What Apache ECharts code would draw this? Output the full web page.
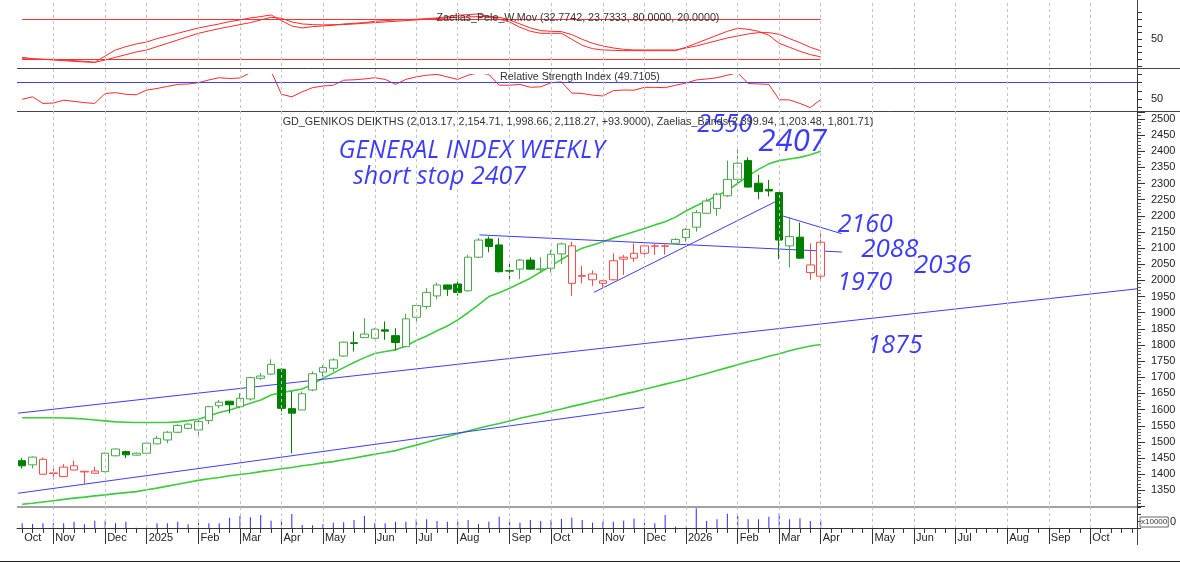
<!DOCTYPE html>
<html><head><meta charset="utf-8">
<script src="https://cdn.jsdelivr.net/npm/echarts@6/dist/echarts.min.js"></script>
<style>html,body{margin:0;padding:0;background:#fff}#c{width:1180px;height:563px}</style>
</head><body><div id="c"></div>
<script>
// ---------- data ----------
const firstWeek = '2024-10-11';   // weekly bars (Fridays)
const weekCount = 108;            // incl. empty future weeks
const monthTicks = [[0,'Oct'],[3,'Nov'],[8,'Dec'],[12,'2025'],[17,'Feb'],[21,'Mar'],[25,'Apr'],[29,'May'],[34,'Jun'],[38,'Jul'],[42,'Aug'],[47,'Sep'],[51,'Oct'],[56,'Nov'],[60,'Dec'],[64,'2026'],[69,'Feb'],[73,'Mar'],[77,'Apr'],[82,'May'],[86,'Jun'],[90,'Jul'],[95,'Aug'],[99,'Sep'],[103,'Oct']];

const opens  = [1442,1429,1446,1404,1393,1426,1409,1410,1408,1457, 1470,1459,1465,1494,1506,1530,1542,1537,1566,1612, 1626,1609,1633,1697,1710,1725,1603,1599,1661,1716, 1728,1766,1807,1823,1821,1847,1829,1795,1886,1919, 1952,1986,1989,1968,2072,2128,2110,2030,2035,2063, 2033,2038,2082,2107,2015,2020,1999,2002,2072,2069, 2084,2107,2107,2115,2133,2165,2208,2223,2262,2313, 2371,2301,2282,2272,2107,2134,2048,2013.17];
const closes = [1426,1453,1400,1402,1422,1413,1407,1403,1465,1478, 1460,1465,1496,1511,1530,1551,1555,1563,1609,1623, 1615,1635,1699,1704,1740,1604,1589,1649,1711,1730, 1754,1809,1805,1834,1849,1843,1808,1881,1922,1963, 1986,1973,1963,2072,2125,2105,2027,2029,2063,2035, 2036,2081,2113,1991,2013,2002,1991,2061,2066,2084, 2107,2106,2106,2127,2158,2210,2246,2267,2313,2363, 2289,2275,2277,2125,2136,2069,2024.37,2118.27];
const lows   = [1418,1418,1398,1387,1392,1412,1370,1402,1406,1455, 1450,1457,1463,1493,1496,1527,1539,1513,1555,1604, 1589,1604,1628,1692,1708,1584,1465,1598,1657,1702, 1718,1764,1780,1822,1818,1816,1783,1793,1869,1911, 1942,1952,1953,1965,2069,2087,2025,1996,2004,2033, 2024,2024,2051,1952,1991,1983,1978,2000,2017,2058, 2079,2079,2080,2114,2120,2151,2206,2200,2258,2299, 2289,2251,2260,2066,2041,2068,2002,1998.66];
const highs  = [1450,1455,1452,1418,1431,1442,1410,1423,1467,1480, 1473,1467,1498,1519,1534,1555,1558,1568,1612,1630, 1627,1651,1702,1713,1756,1728,1656,1656,1718,1738, 1759,1811,1842,1883,1852,1873,1852,1896,1929,1976, 1993,1987,1996,2079,2131,2136,2131,2058,2066,2072, 2072,2094,2117,2120,2045,2031,2002,2084,2079,2115, 2113,2113,2112,2131,2162,2218,2254,2272,2371,2404, 2381,2327,2311,2273,2196,2179,2115,2154.71];
// trend signal shown by candle colour: 1 = green, -1 = red
const signal = [1,1,-1,-1,-1,-1,-1,-1,1,1, 1,1,1,1,1,1,1,1,1,1, 1,1,1,1,1,1,1,1,1,1, 1,1,1,1,1,1,1,1,1,1, 1,1,1,1,1,1,1,1,1,1, 1,1,1,-1,-1,-1,-1,-1,-1,-1, -1,-1,-1,1,1,1,1,1,1,1, 1,1,1,1,1,1,-1,-1];
const bandUpper = [1575,1575,1575,1575,1574,1573,1571,1568,1565,1562, 1561,1560,1560,1560,1560,1562,1566,1570,1580,1591, 1599,1609,1620,1630,1645,1653,1658,1664,1679,1697, 1713,1730,1746,1761,1774,1780,1785,1797,1814,1828, 1844,1859,1878,1900,1924,1950,1962,1976,1991,2007, 2026,2045,2065,2084,2100,2110,2120,2131,2141,2151, 2161,2172,2182,2196,2215,2231,2246,2262,2278,2301, 2323,2344,2361,2371,2376,2381,2389,2399.94];
const bandMiddle = [1307,1310,1314,1318,1322,1326,1329,1333,1336,1340, 1343,1346,1352,1357,1363,1369,1375,1381,1386,1390, 1395,1399,1403,1408,1412,1417,1421,1426,1430,1435, 1439,1445,1450,1456,1462,1467,1473,1482,1490,1499, 1508,1517,1525,1534,1542,1550,1557,1565,1573,1580, 1587,1595,1602,1610,1617,1625,1632,1640,1648,1655, 1663,1671,1679,1686,1694,1703,1712,1721,1730,1739, 1748,1756,1765,1773,1782,1790,1797,1801.71];
const peleFast = [23,21,20,19,18,17,16,15.5,25,34, 39,43,46,51,55,59,63,67,70,73, 76.5,79,82,84,86.5,78,70,67,69,70, 71,73,74,75,77,78,79,79.5,80,81, 82,84,86,87,88,84,80,76,68,62, 59,59,59,50,41,36,34,33.5,33,33, 33,33,33,33,38,44,50,56,62,66.5, 65,62,56,44,38,32,27,23.7333];
const peleSlow = [21,20.5,20,20,19,18,17,15.5,19,23, 27,31,34,39,44,49,54,59,62.5,66, 69,72,75,79,83,81.5,76,73,72,71.5, 72,72,73,74,75,76,77,78,79,80, 81,82,83,83.5,84,84.5,83,79,73,67, 63,62,61.5,57,50,44,40,37,35,34, 34,34,34,34,37,40,44,48,52,55, 58,60,60,57.5,51,45,38,32.7742];
const peleLevels = [80, 20];
const rsi = [50,53,45,45.5,49,47.5,46,45,57,58, 56,55.5,61,63,65.5,68,68.4,70,73.3,76, 75,75.7,82,82.5,84,56,53,59,64,66, 67,73,73.5,74.5,76,74,68,74,77,79, 80,77,74,79,82,80,67,67,68,64.5, 65,70,71,57.5,57,55,54,60.4,61.2,61, 64.4,64.4,64,67,69.5,73.3,74.5,76,79,82, 69,68.5,68,49.5,49.2,45,40,49.7105];
const rsiLevel = 70;
const volume = [47,40,47,47,47,63,37,73,73,47, 63,3,23,47,47,63,37,53,47,47, 103,120,107,130,73,87,140,30,27,40, 53,57,80,123,47,47,63,63,87,87, 70,63,63,80,40,63,113,57,53,80, 70,80,90,103,80,53,63,63,73,93, 53,47,130,13,5,197,70,87,143,120, 87,87,113,147,87,97,70,80];
// drawn trend lines: [[weekPos, price],[weekPos, price]]
const trendLines = [
  [[-0.4,1341],[60.05,1607]],
  [[-0.4,1589],[107.5,1974]],
  [[44.1,2141],[79.04,2088]],
  [[55.13,1963],[73.08,2251]],
  [[73.1,2202],[79.0,2145]]
];
// handwritten notes: [weekPos, price, text, size]
const notes = [
  [30.5,2401,'GENERAL INDEX WEEKLY',25],
  [31.9,2320,'short stop 2407',25],
  [65.1,2481,'2550',25],
  [71.0,2429,'2407',31],
  [78.65,2172,'2160',25],
  [80.9,2094,'2088',26],
  [86.0,2045,'2036',26],
  [78.6,1992,'1970',25],
  [81.5,1797,'1875',25]
];
const titlePele = 'Zaelias_Pele_W.Mov (32.7742, 23.7333, 80.0000, 20.0000)';
const titleRsi = 'Relative Strength Index (49.7105)';
const titleMain = 'GD_GENIKOS DEIKTHS (2,013.17, 2,154.71, 1,998.66, 2,118.27, +93.9000), Zaelias_Bands(2,399.94, 1,203.48, 1,801.71)';

// ---------- build ----------
const t0 = Date.UTC(2024,9,11);
const categories = Array.from({length: weekCount}, (_, i) => new Date(t0 + i*7*86400000).toISOString().slice(0,10));
const monthMap = new Map(monthTicks);
const last = closes.length - 1;
const FONT = 'Liberation Sans';
const AX = '#333';
const GREEN_UP = '#4aa84a', GREEN_DN = '#008000', RED_UP = '#ff4a4a', RED_DN = '#ff0000';

const candleData = opens.map((o, i) => {
  const it = {value: [o, closes[i], lows[i], highs[i]]};
  if (signal[i] < 0) it.itemStyle = {color: '#fff', color0: RED_DN, borderColor: RED_UP, borderColor0: RED_DN};
  return it;
});

const G = (top, height) => ({left: 17, right: 43, top, height});
const catAxis = (gridIndex, extra) => Object.assign({type: 'category', gridIndex, position: 'bottom', data: categories, boundaryGap: true,
  axisLine: {show: false, onZero: false}, axisTick: {show: false}, axisLabel: {show: false}, splitLine: {show: false}}, extra || {});
const rightAxis = (gridIndex, min, max, interval, extra) => Object.assign({type: 'value', gridIndex, position: 'right', min, max, interval,
  axisLine: {show: true, onZero: false, lineStyle: {color: AX}}, axisTick: {show: true, length: 5, lineStyle: {color: AX}},
  axisLabel: {color: '#222', fontFamily: FONT, fontSize: 11, margin: 14}, splitLine: {show: false}}, extra || {});

const option = {
  animation: false,
  backgroundColor: '#fff',
  grid: [G(12.6, 53.4), G(74.4, 33.2), G(112.5, 394), G(507, 21), G(0, 528)],
  xAxis: [
    catAxis(0), catAxis(1), catAxis(2),
    {type: 'value', gridIndex: 2, position: 'bottom', min: -0.5, max: weekCount - 0.5, show: false, axisLine: {onZero: false}},
    catAxis(3, {axisLine: {show: true, onZero: false, lineStyle: {color: AX}}, axisTick: {show: true, length: 5, interval: 0, alignWithLabel: true, lineStyle: {color: AX}}}),
    catAxis(3, {axisTick: {show: true, length: 16, alignWithLabel: true, interval: (i) => monthMap.has(i) && i > 0, lineStyle: {color: AX}},
      axisLabel: {show: true, interval: (i) => monthMap.has(i), formatter: (v, i) => monthMap.get(i) || '', align: 'left', margin: 4,
        padding: [0,0,0,2], color: '#222', fontFamily: FONT, fontSize: 11}}),
    catAxis(4)
  ],
  yAxis: [
    rightAxis(0, 10, 90, 10, {axisLabel: {color: '#222', fontFamily: FONT, fontSize: 11, margin: 14, formatter: v => v === 50 ? '50' : ''}}),
    rightAxis(1, 40, 80, 10, {axisLabel: {color: '#222', fontFamily: FONT, fontSize: 11, margin: 14, formatter: v => v === 50 ? '50' : ''}}),
    rightAxis(2, 1300, 2520, 50, {axisTick: {show: true, length: 8, lineStyle: {color: AX}},
      minorTick: {show: true, splitNumber: 5, length: 4, lineStyle: {color: '#555'}},
      axisLabel: {color: '#222', fontFamily: FONT, fontSize: 11, margin: 14, showMaxLabel: false, formatter: v => (v >= 1350 && v <= 2500) ? String(v) : ''}}),
    rightAxis(3, 0, 210, 70, {axisTick: {show: true, length: 4, lineStyle: {color: AX}}, axisLabel: {show: false}}),
    {type: 'value', gridIndex: 4, min: 0, max: 1, show: false, axisLine: {onZero: false}}
  ],
  series: [
    {type: 'line', xAxisIndex: 0, yAxisIndex: 0, data: peleSlow, symbol: 'none', lineStyle: {color: '#ff2a2a', width: 1}, z: 3,
      markLine: {silent: true, symbol: 'none', label: {show: false}, lineStyle: {color: '#ff3030', width: 1, type: 'solid'},
        data: peleLevels.map(l => [{coord: [0, l]}, {coord: [last, l]}])}},
    {type: 'line', xAxisIndex: 0, yAxisIndex: 0, data: peleFast, symbol: 'none', lineStyle: {color: '#ff2a2a', width: 1}, z: 3},
    {type: 'line', xAxisIndex: 1, yAxisIndex: 1, data: rsi, symbol: 'none', lineStyle: {color: '#ff2a2a', width: 1}, z: 3,
      markLine: {silent: true, symbol: 'none', label: {show: false}, lineStyle: {color: '#4040ff', width: 1, type: 'solid'}, data: [{yAxis: rsiLevel}]}},
    {type: 'line', xAxisIndex: 2, yAxisIndex: 2, data: bandUpper, symbol: 'none', lineStyle: {color: '#3ccc3c', width: 1.6}, z: 2},
    {type: 'line', xAxisIndex: 2, yAxisIndex: 2, data: bandMiddle, symbol: 'none', lineStyle: {color: '#3ccc3c', width: 1.6}, z: 2},
    ...trendLines.map(seg => ({type: 'line', xAxisIndex: 3, yAxisIndex: 2, data: seg, symbol: 'none', lineStyle: {color: '#3c3cff', width: 1}, z: 2})),
    {type: 'candlestick', xAxisIndex: 2, yAxisIndex: 2, data: candleData, barWidth: 8, z: 4,
      itemStyle: {color: '#fff', color0: GREEN_DN, borderColor: GREEN_UP, borderColor0: GREEN_DN, borderWidth: 1}},
    {type: 'scatter', xAxisIndex: 3, yAxisIndex: 2, symbolSize: 0, z: 6, silent: true,
      data: notes.map(n => ({value: [n[0], n[1]], name: n[2],
        label: {show: true, position: 'right', distance: 0, formatter: n[2], color: '#0a0aff', fontSize: n[3],
          fontFamily: 'Open Sans', fontStyle: 'italic', fontWeight: 'normal'}}))},
    {type: 'bar', xAxisIndex: 4, yAxisIndex: 3, data: volume, barWidth: 1, itemStyle: {color: '#2a2aff'}},
    {type: 'line', xAxisIndex: 6, yAxisIndex: 4, data: [], symbol: 'none', silent: true,
      markLine: {silent: true, symbol: 'none', label: {show: false}, lineStyle: {color: '#c4c4c4', width: 1, type: [3, 3]},
        data: monthTicks.filter(m => m[0] > 0).map(m => ({xAxis: m[0]}))}}
  ],
  graphic: [
    {type: 'line', shape: {x1: 17, y1: 68.5, x2: 1180, y2: 68.5}, style: {stroke: '#444', lineWidth: 1}, silent: true},
    {type: 'line', shape: {x1: 17, y1: 111.5, x2: 1180, y2: 111.5}, style: {stroke: '#444', lineWidth: 1}, silent: true},
    {type: 'line', shape: {x1: 17, y1: 507, x2: 1137, y2: 507}, style: {stroke: '#444', lineWidth: 1}, silent: true},
    {type: 'line', shape: {x1: 1137.5, y1: 0, x2: 1137.5, y2: 545}, style: {stroke: '#444', lineWidth: 1}, silent: true},
    {type: 'line', shape: {x1: 0, y1: 561.5, x2: 1180, y2: 561.5}, style: {stroke: '#222', lineWidth: 1}, silent: true},
    {type: 'text', x: 578, y: 18, z: 10, style: {text: titlePele, fill: '#333', font: '10.7px "Liberation Sans"', textAlign: 'center', textVerticalAlign: 'middle'}},
    {type: 'text', x: 580, y: 77, z: 10, style: {text: titleRsi, fill: '#333', font: '10.7px "Liberation Sans"', textAlign: 'center', textVerticalAlign: 'middle'}},
    {type: 'text', x: 578, y: 122, z: 10, style: {text: titleMain, fill: '#333', font: '10.8px "Liberation Sans"', textAlign: 'center', textVerticalAlign: 'middle'}},
    {type: 'text', x: 1140, y: 522, z: 10, style: {text: 'x10000', fill: '#333', font: '8px "Liberation Sans"', textVerticalAlign: 'middle', padding: [1,1,1,1], borderColor: '#666', borderWidth: 1}},
    {type: 'text', x: 1170, y: 522, z: 10, style: {text: '0', fill: '#222', font: '11px "Liberation Sans"', textVerticalAlign: 'middle'}}
  ]
};
const chart = echarts.init(document.getElementById('c'), null, {renderer: 'canvas'});
chart.setOption(option);
</script></body></html>
